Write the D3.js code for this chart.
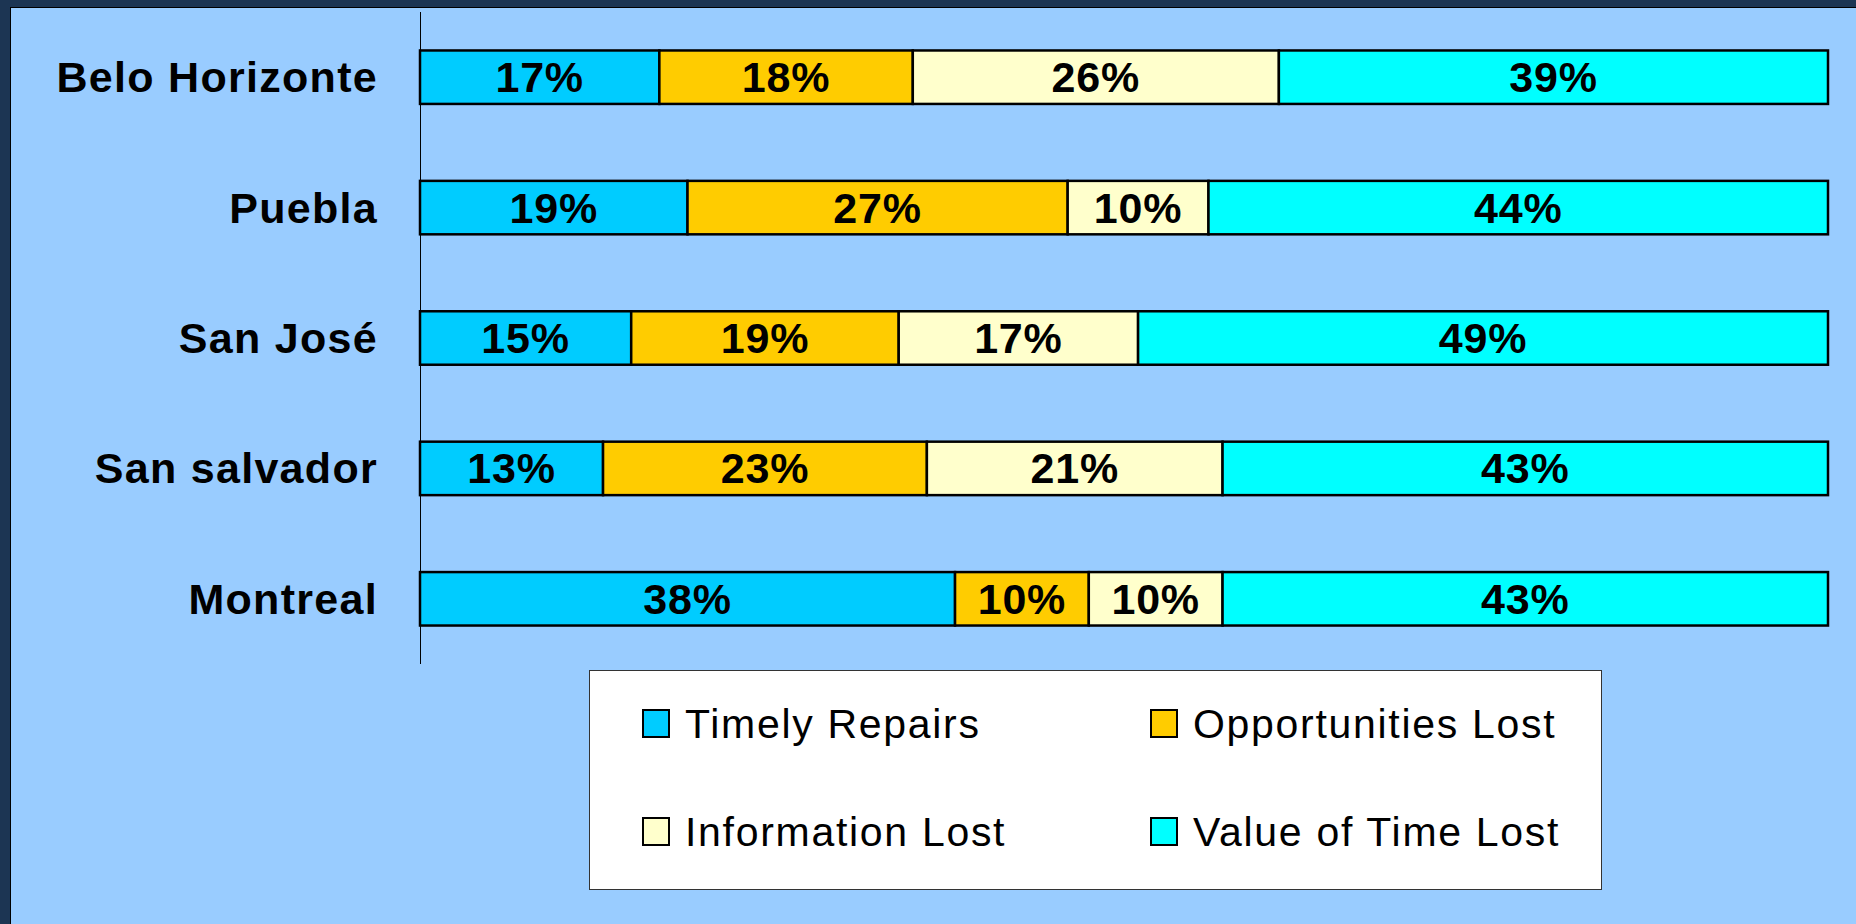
<!DOCTYPE html>
<meta charset="utf-8">
<script src="https://d3js.org/d3.v7.min.js"></script>
<style>
body {
  margin: 0;
  background-color: #1c3553;
  font-family: "Liberation Sans", Arial, sans-serif;
}
</style>
<svg id="chart" width="1856" height="924"></svg>
<script>
// data
const cities = ["Belo Horizonte", "Puebla", "San José", "San salvador", "Montreal"];
const seriesNames = ["Timely Repairs", "Opportunities Lost", "Information Lost", "Value of Time Lost"];
const timelyRepairs = [17, 19, 15, 13, 38];
const opportunitiesLost = [18, 27, 19, 23, 9.5];
const informationLost = [26, 10, 17, 21, 9.5];
const valueOfTimeLost = [39, 44, 49, 43, 43];
const colors = ["#00ccff", "#ffcc00", "#ffffcc", "#00ffff"];

const rows = cities.map((c, i) => ({
  city: c,
  "Timely Repairs": timelyRepairs[i],
  "Opportunities Lost": opportunitiesLost[i],
  "Information Lost": informationLost[i],
  "Value of Time Lost": valueOfTimeLost[i]
}));

const svg = d3.select("#chart");

// light blue panel
svg.append("rect")
  .attr("x", 10.5).attr("y", 7.5)
  .attr("width", 1856).attr("height", 924)
  .attr("fill", "#99ccff")
  .attr("stroke", "#000").attr("stroke-width", 1);

const x = d3.scaleLinear().domain([0, 100]).range([420, 1828]);
const y = d3.scaleBand().domain(cities).range([12, 664]).paddingInner(0.59).paddingOuter(0.295);

const stacked = d3.stack().keys(seriesNames)(rows);

// axis line
svg.append("line")
  .attr("x1", 420.5).attr("x2", 420.5)
  .attr("y1", 12).attr("y2", 664)
  .attr("stroke", "#000").attr("stroke-width", 1);

const layer = svg.selectAll("g.layer")
  .data(stacked)
  .enter().append("g")
  .attr("class", "layer")
  .attr("fill", (d, i) => colors[i]);

layer.selectAll("rect")
  .data(d => d)
  .enter().append("rect")
  .attr("x", d => x(d[0]))
  .attr("y", d => y(d.data.city))
  .attr("width", d => x(d[1]) - x(d[0]))
  .attr("height", y.bandwidth())
  .attr("stroke", "#000")
  .attr("stroke-width", 2.5);

layer.selectAll("text")
  .data(d => d)
  .enter().append("text")
  .attr("x", d => (x(d[0]) + x(d[1])) / 2)
  .attr("y", d => y(d.data.city) + y.bandwidth() / 2 + 15)
  .attr("text-anchor", "middle")
  .attr("font-size", 43)
  .attr("font-weight", "bold")
  .attr("letter-spacing", 0.8)
  .attr("fill", "#000")
  .text(d => Math.round(d[1] - d[0]) + "%");

// city labels
svg.selectAll("text.city")
  .data(cities)
  .enter().append("text")
  .attr("class", "city")
  .attr("x", 378)
  .attr("y", d => y(d) + y.bandwidth() / 2 + 15)
  .attr("text-anchor", "end")
  .attr("font-size", 43)
  .attr("font-weight", "bold")
  .attr("letter-spacing", 1.3)
  .text(d => d);

// legend
const legend = svg.append("g");
legend.append("rect")
  .attr("x", 589.5).attr("y", 670.5)
  .attr("width", 1012).attr("height", 219)
  .attr("fill", "#fff")
  .attr("stroke", "#333").attr("stroke-width", 1);

const item = legend.selectAll("g.item")
  .data(seriesNames)
  .enter().append("g")
  .attr("class", "item")
  .attr("transform", (d, i) => "translate(" + (i % 2 === 0 ? 643 : 1151) + "," + (i < 2 ? 710 : 818) + ")");

item.append("rect")
  .attr("width", 26).attr("height", 27)
  .attr("fill", (d, i) => colors[i])
  .attr("stroke", "#000").attr("stroke-width", 2);

item.append("text")
  .attr("x", 42)
  .attr("y", 28)
  .attr("font-size", 41)
  .attr("letter-spacing", 1.7)
  .text(d => d);
</script>
